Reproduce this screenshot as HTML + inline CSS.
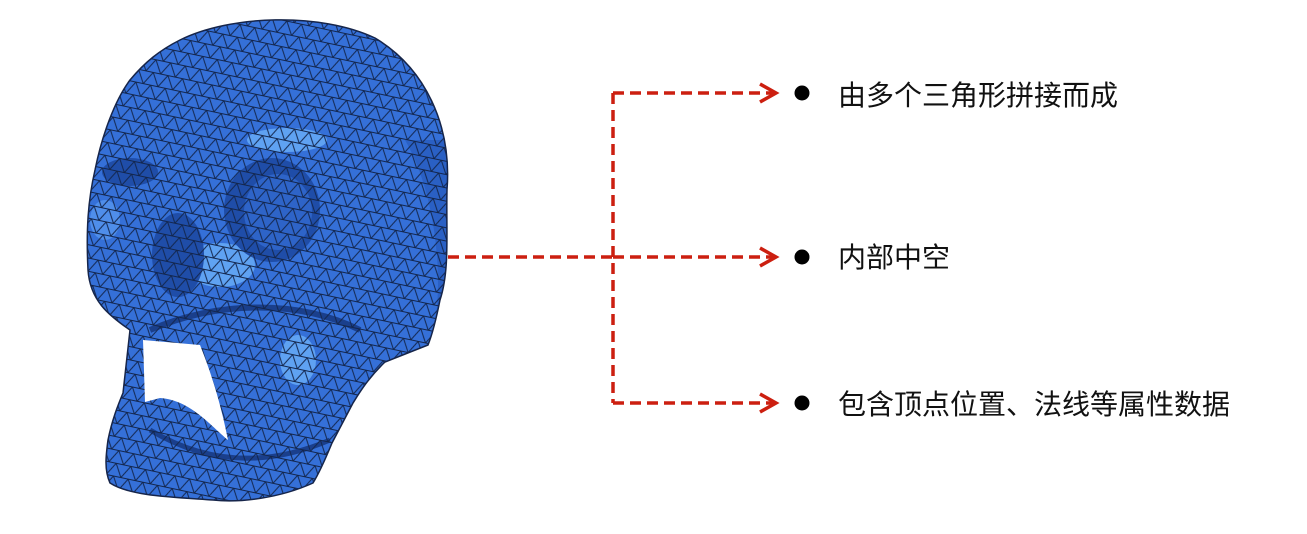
<!DOCTYPE html>
<html><head><meta charset="utf-8"><style>
html,body{margin:0;padding:0;background:#fff;}
body{width:1307px;height:534px;position:relative;overflow:hidden;font-family:"Liberation Sans","Noto Sans CJK SC",sans-serif;}
.item{position:absolute;left:838px;font-size:28px;color:#111;line-height:32px;}
</style></head><body>
<svg width="1307" height="534" style="position:absolute;left:0;top:0">
<defs>
<pattern id="mesh" width="15" height="13" patternUnits="userSpaceOnUse" patternTransform="rotate(12)">
<path d="M0,0 L15,0 M0,13 L15,13 M0,0 L7.5,13 L15,0 M-7.5,13 L0,0 M15,0 L22.5,13" stroke="#13264d" stroke-width="1" fill="none"/>
</pattern>
<clipPath id="skullclip"><path id="sk" d="M180,40 C230,15 320,12 375,38 C425,68 452,125 447,190 C446,230 450,270 440,300 C436,320 432,335 428,345 L385,362 C368,378 358,395 353,403 L332,443 C325,460 318,475 313,483 C280,498 240,503 213,500 C170,497 130,496 110,483 C104,470 106,455 108,440 C112,420 118,405 123,393 L130,330 C108,315 90,300 88,270 C86,230 88,200 95,170 C102,135 115,100 130,80 C145,62 160,50 180,40 Z"/></clipPath>
</defs>
<g>
<g clip-path="url(#skullclip)">
<rect x="80" y="10" width="380" height="500" fill="#3570d8"/>
<ellipse cx="287" cy="140" rx="40" ry="12" fill="#5fa2f2"/>
<ellipse cx="220" cy="265" rx="35" ry="22" fill="#5fa2f2"/>
<ellipse cx="298" cy="360" rx="18" ry="25" fill="#5fa2f2"/>
<ellipse cx="105" cy="220" rx="15" ry="20" fill="#4f8eea"/>
<ellipse cx="272" cy="210" rx="48" ry="52" fill="#1f4da8"/>
<ellipse cx="278" cy="212" rx="34" ry="38" fill="#2e64c8"/>
<ellipse cx="178" cy="255" rx="26" ry="42" fill="#1f4da8"/>
<ellipse cx="130" cy="172" rx="28" ry="14" fill="#1f4da8"/>
<path d="M405,140 C440,200 445,300 430,343 L450,343 L450,140Z" fill="#2a60c4"/>
<path d="M150,330 C220,300 300,300 360,330" stroke="#1a3f8c" stroke-width="6" fill="none"/>
<path d="M150,430 C200,460 260,470 330,440" stroke="#1a3f8c" stroke-width="5" fill="none"/>
<rect x="80" y="10" width="380" height="500" fill="url(#mesh)"/>
<path d="M143,340 L200,345 C210,370 220,400 228,440 C210,425 190,400 160,398 L145,402 Z" fill="#fff"/>
</g>
<use href="#sk" fill="none" stroke="#16254a" stroke-width="1.5"/>
</g>
<g stroke="#cc1f10" stroke-width="3.5" fill="none">
<path d="M448,257 L612,257" stroke-dasharray="11,6"/>
<path d="M613,93 L613,403" stroke-dasharray="11,6"/>
<path d="M613,93 L774,93" stroke-dasharray="11,6"/>
<path d="M613,257 L774,257" stroke-dasharray="11,6"/>
<path d="M613,403 L774,403" stroke-dasharray="11,6"/>
<path d="M760,84 L776,93 L760,102 M760,248 L776,257 L760,266 M760,394 L776,403 L760,412" stroke-width="3.5"/>
</g>
<circle cx="802" cy="93" r="7.5" fill="#000"/>
<circle cx="802" cy="257" r="7.5" fill="#000"/>
<circle cx="802" cy="403" r="7.5" fill="#000"/>
</svg>
<div class="item" style="top:80px">由多个三角形拼接而成</div>
<div class="item" style="top:242px">内部中空</div>
<div class="item" style="top:389px">包含顶点位置、法线等属性数据</div>
</body></html>
